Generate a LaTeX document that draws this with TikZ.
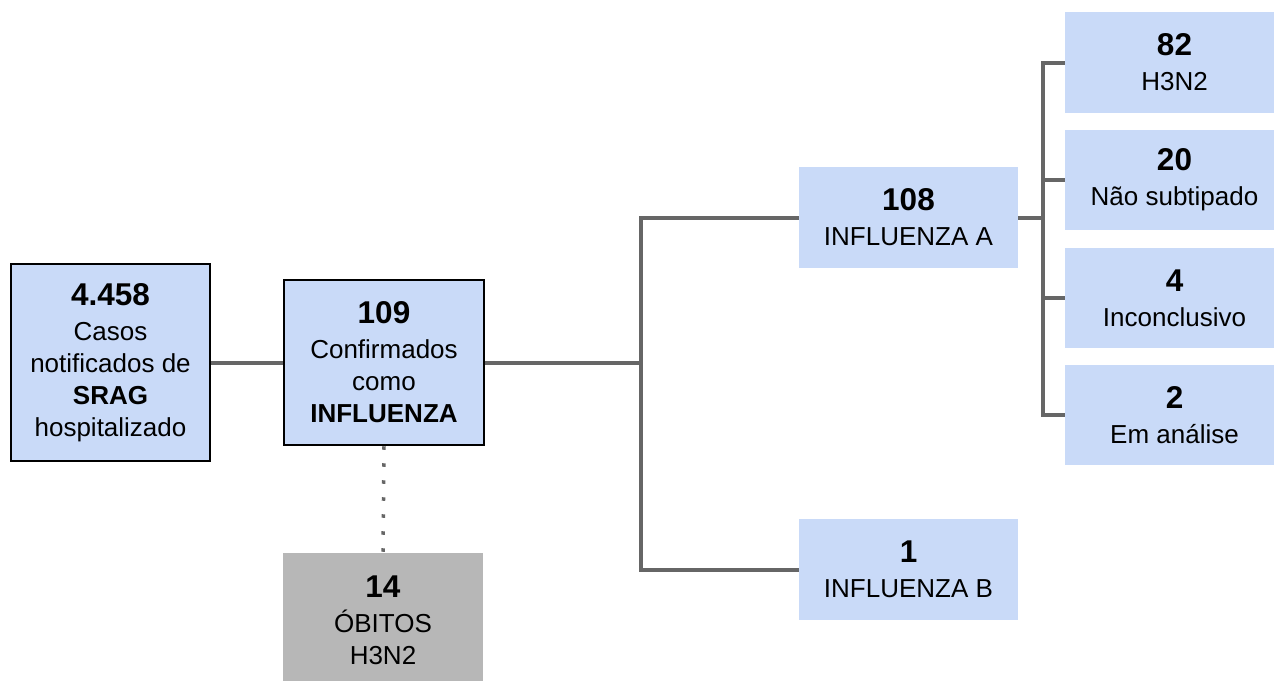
\documentclass[tikz,border=0pt]{standalone}
\usepackage{fontspec}
\setmainfont{Liberation Sans}
\definecolor{boxblue}{HTML}{C9DAF8}
\definecolor{boxgray}{HTML}{B7B7B7}
\definecolor{linegray}{HTML}{666666}
\newcommand{\bignum}[1]{{\fontsize{31.5}{32}\selectfont\bfseries #1}\\[3pt]}
\tikzset{
  box/.style={fill=boxblue, inner sep=0pt, align=center, font=\fontsize{26}{32}\selectfont, text=black},
  framed/.style={box, draw=black, line width=2.5pt},
  graybox/.style={box, fill=boxgray},
  conn/.style={draw=linegray, line width=4pt},
  dots/.style={draw=linegray, line width=3.5pt, dash pattern=on 3.5pt off 13.5pt},
}
\begin{document}
\begin{tikzpicture}[x=1pt,y=-1pt]
\useasboundingbox (0,0) rectangle (1274,680);
\node[framed, minimum width=199pt, minimum height=197pt] (b1) at (110.5,362.5)
  {\bignum{4.458}Casos\\notificados de\\\textbf{SRAG}\\hospitalizado};
\node[framed, minimum width=200pt, minimum height=165pt] (b2) at (384,362.5)
  {\bignum{109}Confirmados\\como\\\textbf{INFLUENZA}};
\node[graybox, minimum width=200pt, minimum height=134pt] (ob) at (383,620)
  {\bignum{14}ÓBITOS\\H3N2};
\node[box, minimum width=219pt, minimum height=101pt] (fa) at (908.5,217.5)
  {\bignum{108}INFLUENZA A};
\node[box, minimum width=219pt, minimum height=101pt] (fb) at (908.5,569.5)
  {\bignum{1}INFLUENZA B};
\node[box, minimum width=219pt, minimum height=101pt] (s1) at (1174.5,62.5)
  {\bignum{82}H3N2};
\node[box, minimum width=219pt, minimum height=100pt] (s2) at (1174.5,180)
  {\bignum{20}Não subtipado};
\node[box, minimum width=219pt, minimum height=100pt] (s3) at (1174.5,298)
  {\bignum{4}Inconclusivo};
\node[box, minimum width=219pt, minimum height=100pt] (s4) at (1174.5,415)
  {\bignum{2}Em análise};
\coordinate (j1) at (641,362.5);
\coordinate (j2) at (1043,217.5);
\draw[conn] (b1.east) -- (b2.west);
\draw[conn] (b2.east) -- (j1);
\draw[conn] (fa.west) -| (j1) |- (fb.west);
\draw[conn] (fa.east) -- (j2);
\draw[conn] (s1.west) -| (j2) |- (s4.west);
\draw[conn] (s2.west) -- (s2.west -| j2);
\draw[conn] (s3.west) -- (s3.west -| j2);
\draw[dots] (b2.south) -- (ob.north);
\end{tikzpicture}
\end{document}
